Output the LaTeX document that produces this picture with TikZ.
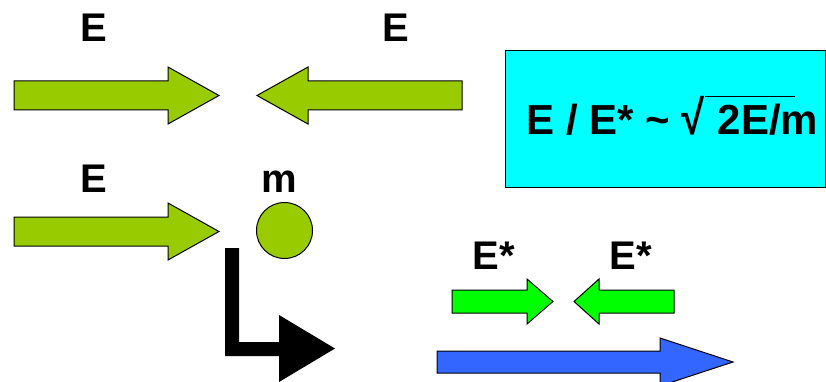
\documentclass[tikz,border=0pt]{standalone}
\usepackage{fontspec}
\setmainfont{Liberation Sans}
\usepackage{tikz}
\usetikzlibrary{positioning}

\definecolor{lime}{HTML}{99CC00}
\definecolor{brightgreen}{HTML}{00FF00}
\definecolor{beamblue}{HTML}{3366FF}
\definecolor{boxcyan}{HTML}{00FFFF}

% block arrow: style, tail x, head base x, tip x, mid y, shaft half, head half
\newcommand{\blockarrow}[7][]{%
  \draw[#1] (#2,{#5-#6}) -- (#3,{#5-#6}) -- (#3,{#5-#7}) -- (#4,#5)
    -- (#3,{#5+#7}) -- (#3,{#5+#6}) -- (#2,{#5+#6}) -- cycle;}

\begin{document}
\begin{tikzpicture}[x=1pt,y=-1pt,line width=1pt]
	\tikzstyle{label}=[font=\fontsize{40}{44}\selectfont\bfseries,anchor=base,inner sep=0pt]
	\tikzstyle{formula}=[label,font=\fontsize{42}{46}\selectfont\bfseries,anchor=base west]
	\tikzstyle{incoming}=[fill=lime,draw=black,line join=miter]
	\tikzstyle{outgoing}=[fill=brightgreen,draw=black,line join=miter]
	\tikzstyle{beam}=[fill=beamblue,draw=black,line join=miter]

  \useasboundingbox (0,0) rectangle (826,382);

  % labels
  \node[label] (E1) at (94,42)   {E};
  \node[label] (E2) at (396,42)  {E};
  \node[label] (E3) at (94,192)  {E};
  \node[label] (M)  at (279,192) {m};
  \node[label] (S1) at (494,269) {E*};
  \node[label] (S2) at (631,269) {E*};

  % ratio box
  \draw[fill=boxcyan] (505,51) rectangle (825,187);
  \node[formula] (ratio) at (526,135)
    {E / E* \textasciitilde\ \scalebox{1}[1.15]{√}\rlap{\rule[37.5pt]{90pt}{1.6pt}}\hspace{13pt}2E/m};

  % colliding beams
  \blockarrow[incoming]{14}{168}{219}{95.5}{14.5}{28.5}
  \blockarrow[incoming]{462}{308}{257}{95.5}{14.5}{28.5}

  % fixed target
  \blockarrow[incoming]{14}{168}{219}{231.5}{14.5}{28.5}
  \node[circle,fill=lime,draw=black,minimum size=56pt,inner sep=0pt] (target) at (284.5,230.5) {};

  % turn
  \fill (225,248) -- (239,248) -- (239,342) -- (279,342) -- (279,315) -- (335,348.5)
    -- (279,382) -- (279,356) -- (225,356) -- cycle;

  % equivalent
  \blockarrow[outgoing]{452}{527}{553}{301.5}{11.5}{22.5}
  \blockarrow[outgoing]{674}{599}{574}{301.5}{11.5}{22.5}
  \blockarrow[beam]{437}{660}{733}{362}{11}{24}

\end{tikzpicture}
\end{document}
